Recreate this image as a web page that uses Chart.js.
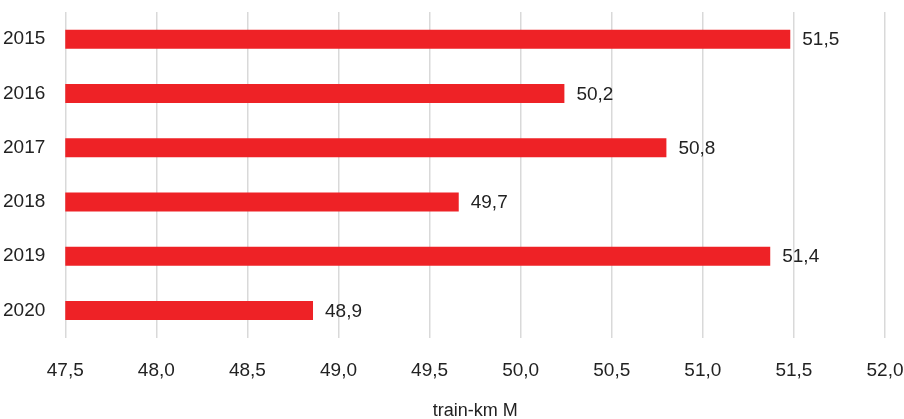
<!DOCTYPE html>
<html>
<head>
<meta charset="utf-8">
<script src="https://cdn.jsdelivr.net/npm/chart.js@4"></script>
<style>
  body { margin: 0; background: #fff; }
  #wrap { width: 904px; height: 419px; position: relative; }
</style>
</head>
<body>
<div id="wrap"><canvas id="mycanvas"></canvas></div>
<script>
var years = ["2015", "2016", "2017", "2018", "2019", "2020"];
var trainKm = [51.48, 50.24, 50.80, 49.66, 51.37, 48.86];
var axisMin = 47.5;
var axisMax = 52.0;
var axisStep = 0.5;

function fmt(v) {
  return v.toFixed(1).replace('.', ',');
}

// draws the value next to the end of each bar
var valueLabels = {
  id: 'valueLabels',
  afterDatasetsDraw: function(chart) {
    var ctx = chart.ctx;
    var meta = chart.getDatasetMeta(0);
    ctx.save();
    ctx.font = '19px "Liberation Sans", Arial, sans-serif';
    ctx.fillStyle = '#222';
    ctx.textAlign = 'left';
    ctx.textBaseline = 'middle';
    meta.data.forEach(function(bar, i) {
      ctx.fillText(fmt(trainKm[i]), bar.x + 12, bar.y + 1);
    });
    ctx.restore();
  }
};

var ctx = document.getElementById('mycanvas');

var chart = new Chart(ctx, {
  type: 'bar',
  data: {
    labels: years,
    datasets: [{
      data: trainKm,
      backgroundColor: '#ee2226',
      borderWidth: 0,
      categoryPercentage: 1,
      barPercentage: 0.35
    }]
  },
  options: {
    indexAxis: 'y',
    responsive: true,
    maintainAspectRatio: false,
    animation: false,
    layout: { padding: { top: 12, left: -17, right: 0, bottom: -3 } },
    plugins: {
      legend: { display: false },
      tooltip: { enabled: false }
    },
    scales: {
      x: {
        min: axisMin,
        max: axisMax,
        afterFit: function(scale) {
          scale.paddingLeft = 0;
          scale.paddingRight = 19;
        },
        ticks: {
          stepSize: axisStep,
          padding: 22,
          color: '#222',
          font: { family: '"Liberation Sans", Arial, sans-serif', size: 19 },
          callback: function(v) { return fmt(v); }
        },
        grid: { color: '#d9d9d9', lineWidth: 1.5, drawTicks: false },
        border: { display: false },
        title: {
          display: true,
          text: 'train-km M',
          color: '#222',
          padding: { top: -4, bottom: 0 },
          font: { family: '"Liberation Sans", Arial, sans-serif', size: 18 }
        }
      },
      y: {
        afterFit: function(scale) {
          scale.paddingTop = 0;
          scale.paddingBottom = 0;
        },
        ticks: {
          padding: 20,
          color: '#222',
          font: { family: '"Liberation Sans", Arial, sans-serif', size: 19 }
        },
        grid: { display: false, drawTicks: false },
        border: { display: false }
      }
    }
  },
  plugins: [valueLabels]
});
</script>
</body>
</html>
